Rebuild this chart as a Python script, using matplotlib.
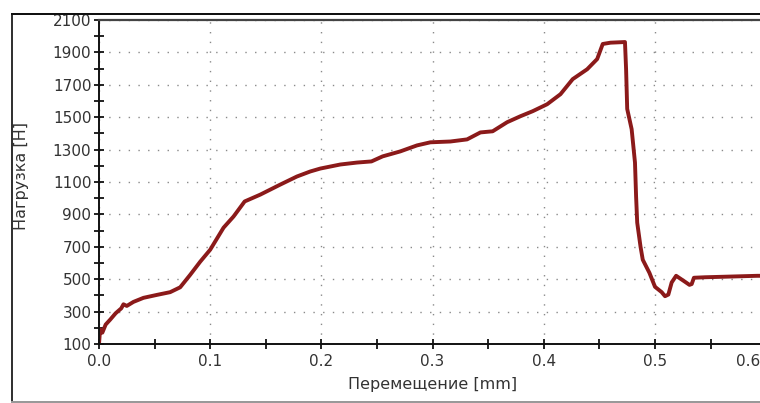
import matplotlib
matplotlib.use("Agg")
import matplotlib.pyplot as plt
from matplotlib.patches import Rectangle
from matplotlib.ticker import MultipleLocator
from matplotlib.transforms import ScaledTranslation

# Data
displacement_mm = [0.0, 0.001, 0.003, 0.006, 0.010, 0.015, 0.020, 0.022, 0.025, 0.031,
                   0.040, 0.052, 0.064, 0.073, 0.082, 0.091, 0.100, 0.112, 0.121, 0.131,
                   0.145, 0.163, 0.178, 0.190, 0.199, 0.217, 0.232, 0.245, 0.255, 0.271,
                   0.286, 0.298, 0.316, 0.331, 0.343, 0.354, 0.367, 0.379, 0.390, 0.403,
                   0.415, 0.426, 0.439, 0.448, 0.453, 0.460, 0.473, 0.474, 0.475, 0.479,
                   0.482, 0.483, 0.484, 0.487, 0.489, 0.495, 0.500, 0.506, 0.509, 0.512,
                   0.515, 0.519, 0.527, 0.531, 0.533, 0.535, 0.545, 0.561, 0.592, 0.600]
load_N = [100, 190, 170, 220, 250, 290, 320, 345, 335, 360,
          385, 403, 420, 450, 527, 608, 682, 818, 887, 980,
          1022, 1084, 1134, 1165, 1183, 1208, 1220, 1227, 1258, 1289,
          1326, 1345, 1350, 1363, 1406, 1413, 1469, 1506, 1537, 1580,
          1642, 1735, 1796, 1859, 1952, 1960, 1964, 1796, 1551, 1426,
          1220, 1010, 849, 700, 620, 539, 453, 420, 395, 405,
          480, 521, 484, 465, 470, 509, 512, 515, 521, 521]

x_ticks = [0.0, 0.1, 0.2, 0.3, 0.4, 0.5, 0.6]
y_ticks = [100, 300, 500, 700, 900, 1100, 1300, 1500, 1700, 1900, 2100]
x_label = "Перемещение [mm]"
y_label = "Нагрузка [Н]"

W, H = 760, 403
fig = plt.figure(figsize=(W / 100, H / 100), dpi=100)
fig.patch.set_facecolor("white")

# outer window frame
fig.add_artist(Rectangle((10.5 / W, 0), 2 / W, 390 / H, transform=fig.transFigure,
                         facecolor="#333333", edgecolor="none"))
fig.add_artist(Rectangle((10.5 / W, 388 / H), 1 - 10.5 / W, 2 / H, transform=fig.transFigure,
                         facecolor="#111111", edgecolor="none"))
fig.add_artist(Rectangle((10.5 / W, 0), 1 - 10.5 / W, 2 / H, transform=fig.transFigure,
                         facecolor="#999999", edgecolor="none"))

left_px, right_px, top_px, bottom_px = 99, 99 + 6 * 111.2, 20, 344
ax = fig.add_axes([left_px / W, (H - bottom_px) / H, (right_px - left_px) / W,
                   (bottom_px - top_px) / H])
ax.set_facecolor("white")
ax.plot(displacement_mm, load_N, color="#8b1a1a", linewidth=2.8, solid_joinstyle="round")

ax.set_xlim(0, 0.6)
ax.set_ylim(100, 2100)
ax.set_xticks(x_ticks)
ax.set_xticklabels([f"{v:.1f}" for v in x_ticks])
ax.set_yticks(y_ticks)
ax.set_yticklabels([str(v) for v in y_ticks])
ax.xaxis.set_minor_locator(MultipleLocator(0.05))
ax.yaxis.set_minor_locator(MultipleLocator(100))

ax.grid(True, which="major", color="#8a8a8a", linestyle=(0, (1, 6)), linewidth=1.0)
ax.set_axisbelow(True)

for side in ["left", "bottom"]:
    ax.spines[side].set_color("#111111")
    ax.spines[side].set_linewidth(1.4)
ax.spines["top"].set_color("#444444")
ax.spines["top"].set_linewidth(1.6)
ax.spines["right"].set_visible(False)

ax.tick_params(which="both", direction="inout", length=7, width=1.3, color="#111111",
               labelsize=11, labelcolor="#333333", pad=2)
ax.tick_params(axis="x", pad=4)
ax.tick_params(top=False, right=False)

# the last x tick sits just past the image edge; pull its label inside
last_label = ax.get_xticklabels()[-1]
last_label.set_transform(last_label.get_transform()
                         + ScaledTranslation(-0.18, 0, fig.dpi_scale_trans))

fig.text(433 / W, 1 - 385 / H, x_label, ha="center", va="center", fontsize=11.5, color="#333333")
fig.text(22 / W, 1 - 176 / H, y_label, ha="center", va="center", rotation=90,
         fontsize=11.5, color="#333333")

fig.savefig("out.png", dpi=100)
